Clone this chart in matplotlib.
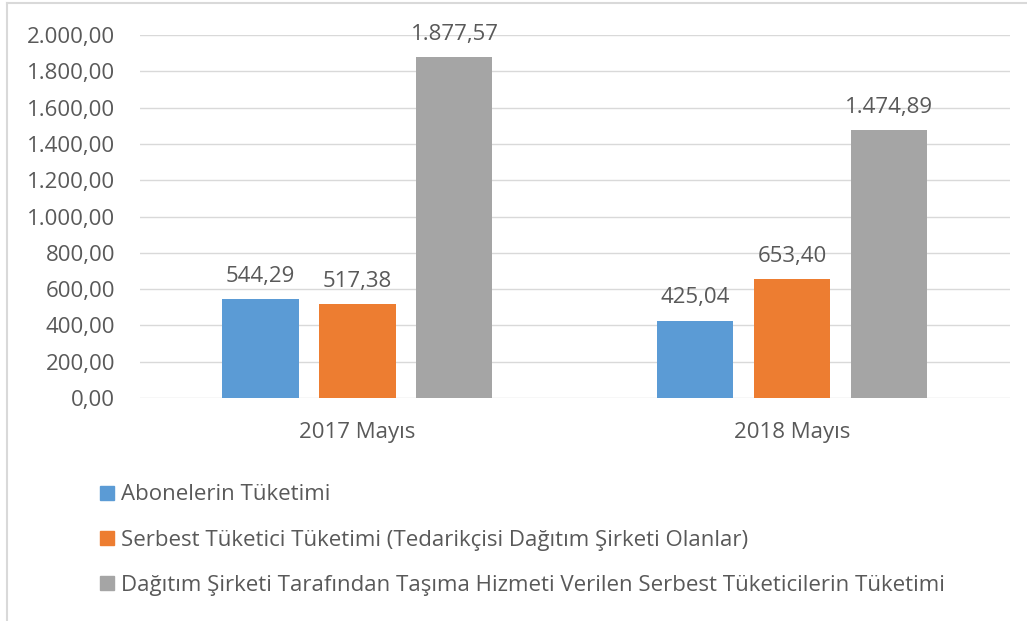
import matplotlib.pyplot as plt
import numpy as np
from matplotlib.ticker import FuncFormatter
from matplotlib.lines import Line2D

plt.rcParams['font.family'] = ['Open Sans', 'DejaVu Sans']

# veriler
categories = ['2017 Mayıs', '2018 Mayıs']
series_names = [
    'Abonelerin Tüketimi',
    'Serbest Tüketici Tüketimi (Tedarikçisi Dağıtım Şirketi Olanlar)',
    'Dağıtım Şirketi Tarafından Taşıma Hizmeti Verilen Serbest Tüketicilerin Tüketimi',
]
abone = [544.29, 425.04]
serbest = [517.38, 653.40]
dagitim = [1877.57, 1474.89]
colors = ['#5B9BD5', '#ED7D31', '#A5A5A5']
yticks = [0, 200, 400, 600, 800, 1000, 1200, 1400, 1600, 1800, 2000]


def tr_fmt(v, pos=None):
    s = f'{v:,.2f}'
    return s.replace(',', 'X').replace('.', ',').replace('X', '.')


text_color = '#595959'
fs = 16
fig = plt.figure(figsize=(10.27, 6.21), dpi=100)
ax = fig.add_axes([0.1363, 0.359, 0.847, 0.5846])

x = np.arange(len(categories))
w = 0.175
step = 0.223
for i, (vals, c) in enumerate(zip([abone, serbest, dagitim], colors)):
    bars = ax.bar(x + (i - 1) * step, vals, width=w, color=c, zorder=3)
    for b, v in zip(bars, vals):
        ax.annotate(tr_fmt(v), (b.get_x() + b.get_width() / 2, v),
                    xytext=(0, 9), textcoords='offset points',
                    ha='center', va='bottom', fontsize=fs, color=text_color)

ax.set_xlim(-0.5, 1.5)
ax.set_ylim(0, 2000)
ax.set_yticks(yticks)
ax.yaxis.set_major_formatter(FuncFormatter(tr_fmt))
ax.set_xticks(x)
ax.set_xticklabels(categories)
ax.tick_params(axis='both', length=0, labelsize=fs, labelcolor=text_color)
ax.tick_params(axis='y', pad=18)
ax.tick_params(axis='x', pad=17)
ax.grid(axis='y', color='#D9D9D9', linewidth=1, zorder=0)
for s in ax.spines.values():
    s.set_visible(False)

handles = [Line2D([], [], marker='s', linestyle='none', markersize=10,
                  markerfacecolor=c, markeredgecolor=c) for c in colors]
fig.legend(handles, series_names, loc='upper left', bbox_to_anchor=(0.083, 0.238),
           frameon=False, fontsize=fs, labelcolor=text_color, handletextpad=0.1,
           labelspacing=1.1, borderpad=0, handlelength=1.0)

# dış çerçeve (sol ve üst)
fig.add_artist(Line2D([0.007, 0.007], [0, 0.995], color='#D9D9D9', linewidth=1.5,
                      transform=fig.transFigure))
fig.add_artist(Line2D([0.007, 1], [0.995, 0.995], color='#D9D9D9', linewidth=1.5,
                      transform=fig.transFigure))

fig.savefig('out.png', dpi=100)
